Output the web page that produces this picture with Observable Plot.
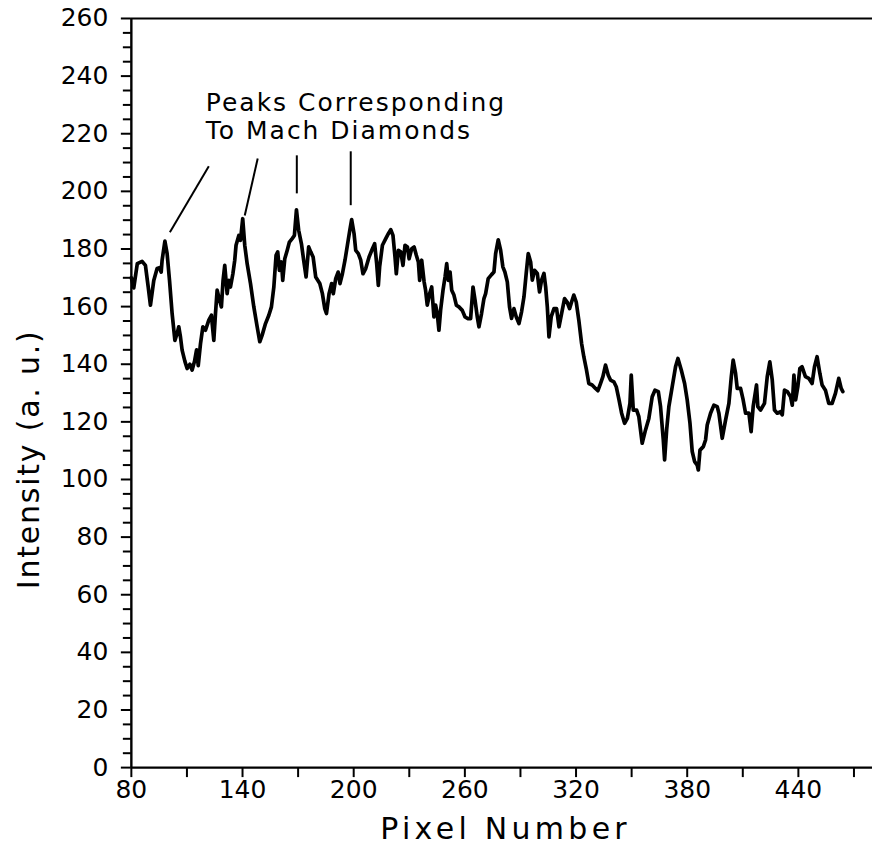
<!DOCTYPE html>
<html>
<head>
<meta charset="utf-8">
<script src="https://cdn.jsdelivr.net/npm/d3@7"></script>
<script src="https://cdn.jsdelivr.net/npm/@observablehq/plot@0.6"></script>
<style>
  html, body { margin: 0; padding: 0; background: #fff; overflow: hidden; }
  #chart svg { display: block; }
</style>
</head>
<body>
<div id="chart"></div>
<script>
// ---- data ----
const pixel = [
  80, 81.3, 83.2, 85.8, 87.6, 89.1, 90.3, 92.1, 93.9, 95.2, 96.1, 96.6, 98.1, 99.3, 100.6, 102.0, 103.5, 104.7, 105.6, 106.5,
  107.4, 108.9, 110.1, 111.6, 112.8, 114.1, 115.2, 116.1, 117.3, 118.6, 120.0, 121.8, 123.2, 124.5, 125.4, 126.3, 127.6, 128.6, 129.5, 130.4,
  131.7, 132.6, 133.5, 134.8, 135.8, 136.5, 138.0, 138.9, 140.1, 141.2, 142.5, 144.3, 146.1, 147.9, 149.3, 150.6, 152.4, 154.2, 155.6, 156.9,
  158.1, 159.0, 159.9, 161.0, 161.7, 162.8, 164.1, 165.3, 166.8, 168.0, 169.1, 170.3, 171.8, 173.0, 174.3, 175.7, 176.8, 178.1, 179.5, 181.7,
  183.1, 184.4, 185.3, 186.7, 188.1, 189.0, 190.3, 191.6, 192.6, 193.9, 195.3, 196.6, 197.9, 198.9, 200.2, 201.1, 202.5, 203.8, 205.0, 206.5,
  208.3, 210.1, 211.3, 212.4, 213.3, 214.0, 215.5, 217.3, 218.7, 220.0, 221.2, 222.3, 223.0, 224.1, 225.4, 226.6, 227.7, 229.0, 229.9, 231.3,
  232.6, 233.8, 234.9, 235.6, 236.7, 238.0, 238.8, 239.7, 241.0, 242.1, 243.3, 244.2, 245.1, 246.0, 246.9, 248.2, 249.3, 250.2, 251.1, 252.0,
  252.9, 254.1, 255.4, 256.8, 258.6, 260.1, 261.7, 263.1, 264.4, 265.5, 266.7, 267.6, 269.0, 270.3, 271.2, 272.6, 274.4, 275.7, 276.6, 278.0,
  279.3, 280.5, 281.6, 282.9, 284.1, 285.2, 286.5, 287.7, 289.2, 290.6, 291.9, 293.1, 294.2, 295.5, 296.4, 297.6, 299.1, 300.3, 301.4, 302.7,
  303.6, 304.5, 305.4, 306.6, 308.1, 309.5, 310.8, 312.2, 313.8, 315.2, 316.5, 317.6, 318.8, 320.1, 321.5, 323.0, 324.2, 325.5, 326.9, 328.7,
  330.5, 331.8, 333.2, 334.5, 335.9, 337.4, 338.6, 340.4, 341.7, 343.2, 344.6, 346.2, 347.7, 349.1, 349.8, 350.9, 352.7, 353.9, 355.7, 357.5,
  359.3, 361.1, 362.6, 364.4, 365.6, 367.1, 367.8, 368.9, 370.1, 371.9, 373.7, 375.0, 376.8, 378.6, 380.0, 381.5, 382.7, 384.0, 385.4, 386.0,
  386.9, 388.7, 389.9, 390.8, 392.6, 394.4, 396.2, 397.1, 398.9, 400.7, 402.5, 403.8, 404.8, 406.1, 407.0, 408.8, 410.2, 411.5, 413.3, 414.5,
  415.6, 417.4, 418.1, 419.6, 421.7, 423.2, 424.6, 425.9, 427.1, 428.6, 430.4, 431.3, 432.5, 434.0, 435.8, 436.7, 437.6, 438.5, 439.7, 440.8,
  442.0, 443.8, 445.6, 447.4, 448.7, 450.1, 451.6, 452.8, 454.6, 456.4, 458.2, 460.0, 461.8, 463.1, 464.0
];
const intensity = [
  170.0, 166.5, 174.9, 175.7, 174.3, 166.8, 160.5, 169.1, 173.2, 173.5, 172.0, 176.1, 182.7, 178.4, 169.1, 157.6, 148.3, 150.7, 153.0, 149.5,
  144.9, 141.0, 138.5, 140.0, 138.0, 141.0, 145.0, 139.5, 147.0, 153.0, 151.8, 155.3, 157.0, 148.3, 157.6, 165.7, 162.2, 159.9, 169.1, 174.3,
  164.5, 169.1, 166.8, 171.4, 176.1, 181.3, 184.7, 183.0, 190.5, 181.3, 174.9, 168.0, 159.9, 153.0, 147.8, 150.1, 154.1, 157.0, 159.9, 166.8,
  177.8, 179.0, 172.6, 175.5, 169.1, 176.6, 179.5, 182.4, 183.6, 184.7, 193.6, 186.5, 181.8, 176.1, 170.3, 180.7, 179.0, 177.2, 170.3, 168.0,
  164.5, 159.3, 157.6, 164.5, 168.0, 164.5, 169.7, 172.0, 168.0, 171.4, 176.1, 181.3, 186.5, 190.2, 185.3, 179.5, 178.4, 176.1, 171.4, 173.2,
  177.2, 180.1, 181.8, 174.9, 167.4, 173.8, 181.3, 183.6, 185.3, 186.7, 184.7, 177.2, 171.4, 179.5, 179.0, 174.3, 181.3, 180.7, 176.6, 180.1,
  180.7, 177.8, 175.5, 169.1, 176.1, 168.6, 165.7, 160.5, 164.5, 166.8, 156.4, 160.5, 157.6, 151.8, 158.7, 165.7, 170.3, 174.9, 169.1, 172.0,
  165.7, 164.0, 160.5, 159.9, 158.7, 156.4, 155.8, 155.8, 166.8, 162.2, 156.4, 153.0, 157.6, 162.8, 164.5, 169.7, 171.1, 172.0, 178.4, 183.2,
  179.6, 173.8, 172.0, 168.6, 159.9, 155.9, 159.3, 156.5, 154.1, 158.2, 163.4, 171.5, 178.4, 175.5, 169.2, 172.6, 171.5, 165.1, 169.2, 171.5,
  166.9, 159.9, 149.5, 156.5, 159.3, 159.3, 153.0, 157.6, 162.8, 161.6, 159.3, 161.6, 164.0, 161.6, 155.3, 147.2, 142.6, 138.5, 133.3, 132.8,
  131.6, 130.8, 133.3, 135.7, 139.7, 136.2, 134.5, 133.9, 132.2, 127.6, 123.0, 119.5, 121.2, 126.4, 136.2, 124.1, 124.1, 121.8, 112.6, 117.2,
  121.2, 128.7, 131.0, 130.5, 125.3, 113.7, 106.8, 117.2, 125.3, 132.2, 139.1, 142.0, 138.0, 133.3, 127.6, 119.5, 109.7, 106.2, 105.0, 103.3,
  110.2, 111.4, 113.7, 118.9, 123.0, 125.8, 125.3, 123.0, 114.3, 120.6, 126.4, 135.7, 141.4, 136.8, 131.6, 131.6, 127.6, 123.0, 123.0, 116.6,
  125.3, 132.8, 125.3, 124.1, 126.4, 135.7, 140.8, 134.5, 124.1, 123.0, 123.5, 122.4, 131.0, 130.5, 128.7, 125.8, 136.2, 127.6, 132.2, 138.5,
  139.1, 135.7, 135.1, 133.3, 139.1, 142.6, 136.8, 132.8, 131.0, 126.4, 126.4, 129.9, 135.1, 131.6, 130.5
];

const xTicks = [80, 140, 200, 260, 320, 380, 440];
const xMinorTicks = [110, 170, 230, 290, 350, 410, 470];
const yTicks = [0, 20, 40, 60, 80, 100, 120, 140, 160, 180, 200, 220, 240, 260];
const yMinorTicks = d3.range(0, 261, 5).filter(v => v % 20 !== 0);

const xTitle = "Pixel Number";
const yTitle = "Intensity (a. u.)";
const annotation = "Peaks Corresponding\nTo Mach Diamonds";

// leader lines from the annotation to the marked peaks
const leaderX1 = [121.8, 148.2, 169.3, 198.4];
const leaderY1 = [208.7, 211.4, 212.5, 213.9];
const leaderX2 = [100.8, 141.2, 169.3, 198.4];
const leaderY2 = [185.8, 191.6, 199.3, 195.2];

// ---- build ----
const series = pixel.map((p, i) => ({pixel: p, intensity: intensity[i]}));
const leaders = leaderX1.map((x, i) => ({x1: x, y1: leaderY1[i], x2: leaderX2[i], y2: leaderY2[i]}));

const font = "'DejaVu Sans', 'Liberation Sans', sans-serif";

const plot = Plot.plot({
  width: 873,
  height: 849,
  marginLeft: 131,
  marginRight: 0,
  marginTop: 18,
  marginBottom: 81,
  style: {fontFamily: font, color: "#000", background: "#fff"},
  x: {domain: [80, 480], label: null},
  y: {domain: [0, 260], label: null},
  marks: [
    Plot.ruleY([260], {stroke: "#000", strokeWidth: 2.2}),
    Plot.ruleY([0], {stroke: "#000", strokeWidth: 2.4}),
    Plot.ruleX([80], {stroke: "#000", strokeWidth: 2.4}),
    Plot.axisY({ticks: yMinorTicks, tickSize: 8, tickFormat: () => "", strokeWidth: 2, label: null}),
    Plot.axisY({ticks: yTicks, tickSize: 10, tickPadding: 13, fontSize: 25, strokeWidth: 2, label: null}),
    Plot.axisX({ticks: xMinorTicks, tickSize: 10, tickFormat: () => "", strokeWidth: 2, label: null}),
    Plot.axisX({ticks: xTicks, tickSize: 10, tickPadding: 3, fontSize: 25, strokeWidth: 2, label: null}),
    Plot.line(series, {x: "pixel", y: "intensity", stroke: "#000", strokeWidth: 3.7, strokeLinejoin: "round"}),
    Plot.link(leaders, {x1: "x1", y1: "y1", x2: "x2", y2: "y2", stroke: "#000", strokeWidth: 2}),
    Plot.text([annotation], {x: 120.2, y: 234.7, text: d => d, textAnchor: "start", lineAnchor: "top",
      lineHeight: 1.12, fontSize: 25, fill: "#000"}),
    Plot.text([xTitle], {x: 282, y: 0, text: d => d, dy: 62, fontSize: 30, lineAnchor: "middle", fill: "#000"}),
    Plot.text([yTitle], {x: 80, y: 107, text: d => d, dx: -102, rotate: -90, fontSize: 30, lineAnchor: "middle", fill: "#000"})
  ]
});

const svg = d3.select(plot);
svg.selectAll("g[aria-label='text'] text").each(function() {
  const t = d3.select(this);
  const s = t.text();
  if (s.startsWith("Pixel")) t.attr("letter-spacing", 4.3);
  else if (s.startsWith("Intensity")) t.attr("letter-spacing", 1.8);
  else t.attr("letter-spacing", 2);
});
document.getElementById("chart").appendChild(plot);
</script>
</body>
</html>
